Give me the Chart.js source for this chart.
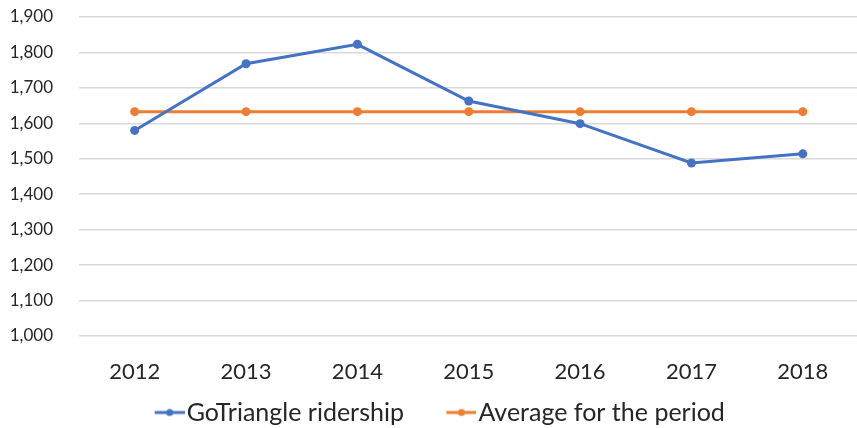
<!DOCTYPE html>
<html>
<head>
<meta charset="utf-8">
<script src="https://cdn.jsdelivr.net/npm/chart.js@4.4.1/dist/chart.umd.min.js"></script>
<style>
  html, body { margin: 0; padding: 0; background: #fff; }
  #wrap { width: 857px; height: 428px; overflow: hidden; }
</style>
</head>
<body>
<div id="wrap"><canvas id="chart" width="863" height="428"></canvas></div>
<script>
// data
const years = ["2012", "2013", "2014", "2015", "2016", "2017", "2018"];
const ridership = [1580, 1768, 1823, 1663, 1599, 1488, 1514];
const periodAverage = [1633, 1633, 1633, 1633, 1633, 1633, 1633];
const yTicks = [1000, 1100, 1200, 1300, 1400, 1500, 1600, 1700, 1800, 1900];

const blue = "#4472C4";
const orange = "#ED7D31";
const textColor = "#262626";
const fontFamily = "Lato, 'Open Sans', sans-serif";

// legend marker: short line with a dot, drawn at the right end of the image
// so the extra transparent part works as the gap between legend items
function legendMarker(color) {
  const c = document.createElement("canvas");
  c.width = 73;
  c.height = 10;
  const ctx = c.getContext("2d");
  ctx.strokeStyle = color;
  ctx.lineWidth = 3;
  ctx.beginPath();
  ctx.moveTo(43, 5);
  ctx.lineTo(73, 5);
  ctx.stroke();
  ctx.fillStyle = color;
  ctx.beginPath();
  ctx.arc(58, 5, 3.5, 0, Math.PI * 2);
  ctx.fill();
  return c;
}

function makeDataset(label, data, color) {
  return {
    label: label,
    data: data,
    borderColor: color,
    backgroundColor: color,
    borderWidth: 3,
    pointRadius: 4.5,
    pointBackgroundColor: color,
    pointBorderWidth: 0,
    pointStyle: "circle",
    marker: legendMarker(color),
    tension: 0,
    fill: false,
  };
}

// moves the legend row sideways a little
const legendNudge = {
  id: "legendNudge",
  afterLayout(chart) {
    chart.legend.left -= 8;
    chart.legend.right -= 8;
  },
};

const config = {
  type: "line",
  data: {
    labels: years,
    datasets: [
      makeDataset("GoTriangle ridership", ridership, blue),
      makeDataset("Average for the period", periodAverage, orange),
    ],
  },
  plugins: [legendNudge],
  options: {
    responsive: false,
    animation: false,
    layout: {
      padding: { top: 17, left: 0, right: 0, bottom: -7 },
    },
    plugins: {
      tooltip: { enabled: false },
      legend: {
        position: "bottom",
        labels: {
          color: textColor,
          font: { family: fontFamily, size: 25 },
          usePointStyle: true,
          pointStyleWidth: 52,
          boxHeight: 12,
          padding: 10,
          generateLabels: function (chart) {
            return chart.data.datasets.map((ds, i) => ({
              text: ds.label,
              fillStyle: ds.borderColor,
              strokeStyle: ds.borderColor,
              fontColor: textColor,
              lineWidth: 0,
              pointStyle: ds.marker,
              hidden: false,
              datasetIndex: i,
            }));
          },
        },
      },
    },
    scales: {
      x: {
        offset: true,
        grid: { display: false, drawTicks: false },
        border: { display: false },
        ticks: {
          color: textColor,
          font: { family: fontFamily, size: 22 },
          padding: 23,
          maxRotation: 0,
        },
        afterFit: function (scale) {
          scale.height = 54;
        },
      },
      y: {
        min: 1000,
        max: 1900,
        afterBuildTicks: function (scale) {
          scale.ticks = yTicks.map((v) => ({ value: v }));
        },
        // invisible tick marks give the gap between labels and grid
        grid: {
          color: "#D9D9D9",
          lineWidth: 1.5,
          drawTicks: true,
          tickLength: 26,
          tickColor: "rgba(0,0,0,0)",
        },
        border: { display: false },
        ticks: {
          color: textColor,
          font: { family: fontFamily, size: 17 },
          padding: 0,
          callback: (v) => v.toLocaleString("en-US"),
        },
        afterFit: function (scale) {
          scale.width = 79;
        },
      },
    },
  },
};

new Chart(document.getElementById("chart"), config);
</script>
</body>
</html>
